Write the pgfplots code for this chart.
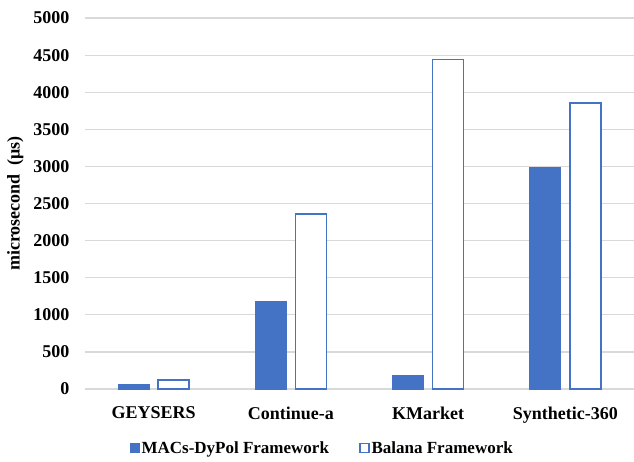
\documentclass[border=0pt]{standalone}
\usepackage{pgfplots}
\pgfplotsset{compat=1.18}
\usepackage{fontspec}
\setmainfont{Liberation Serif}
\definecolor{barblue}{HTML}{4472C4}
\definecolor{gridgray}{HTML}{D9D9D9}
\begin{document}
\begin{tikzpicture}
\begin{axis}[
  scale only axis,
  width=549pt, height=371pt,
  ybar,
  bar width=0.226,
  xmin=-0.5, xmax=3.5,
  ymin=0, ymax=5000,
  ytick={0,500,...,5000},
  xtick={0,1,2,3},
  xticklabels={GEYSERS,Continue-a,KMarket,Synthetic-360},
  axis line style={draw=none},
  tick style={draw=none},
  ymajorgrids,
  major grid style={gridgray, line width=1.2pt},
  /pgf/number format/assume math mode=true,
  yticklabel={\pgfmathprintnumber[fixed,1000 sep={}]{\tick}},
  ticklabel style={font=\fontsize{18}{20}\selectfont\bfseries},
  yticklabel style={xshift=-12pt},
  xticklabel style={yshift=-10pt},
  ylabel={microsecond\ \ (μs)},
  ylabel style={at={(axis description cs:-0.127,0.5)}, anchor=center,
    font=\fontsize{18}{20}\selectfont\bfseries},
  legend columns=2,
  legend style={at={(axis description cs:0.432,-0.159)}, anchor=center,
    draw=none, fill=none, font=\fontsize{17}{19}\selectfont\bfseries,
    /tikz/every even column/.append style={column sep=28pt}},
  legend image code/.code={\draw[#1] (0pt,-4.5pt) rectangle (9pt,4.5pt);},
]
\addplot[fill=barblue, draw=barblue, line width=1pt, bar shift=-0.146]
  coordinates {(0,60) (1,1180) (2,185) (3,2980)};
\addplot[fill=white, draw=barblue, line width=1.6pt, bar shift=0.146]
  coordinates {(0,125) (1,2360) (2,4440) (3,3855)};
\legend{MACs-DyPol Framework, Balana Framework}
\end{axis}
\pgfresetboundingbox
\useasboundingbox (-85pt,-72pt) rectangle (549pt,389pt);
\end{tikzpicture}
\end{document}
